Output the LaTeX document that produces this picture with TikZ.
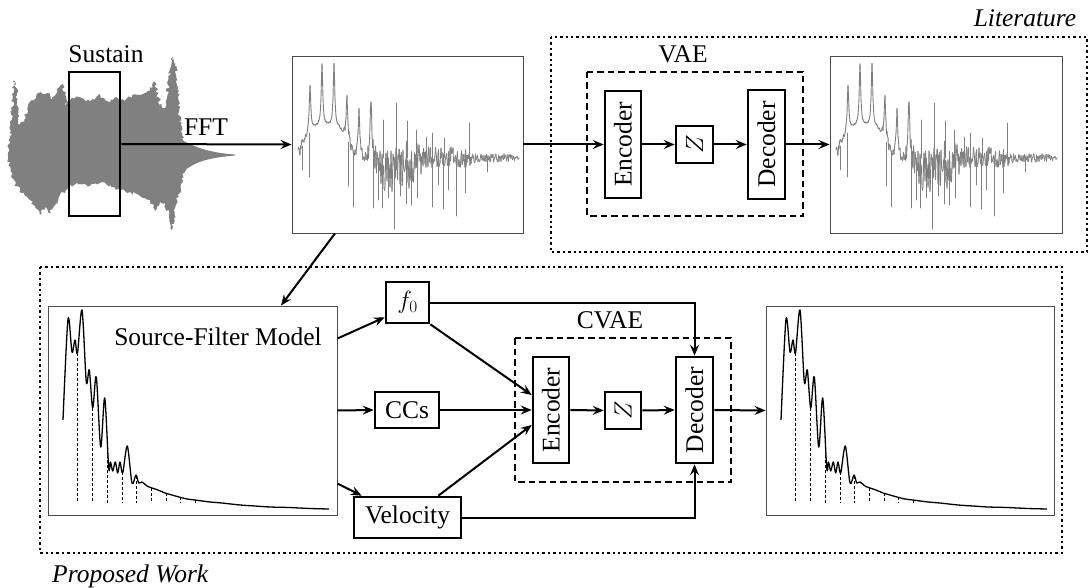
\documentclass[tikz,border=0pt]{standalone}
\usepackage{fontspec}
\usepackage{graphicx}
\setmainfont{Liberation Serif}
\newfontfamily\timesfont{Liberation Serif}
\usetikzlibrary{arrows.meta,decorations.pathmorphing,calc}

\tikzset{
  arr/.style={-{Stealth[length=11pt,width=9pt,inset=4pt]}, line width=2pt},
  blk/.style={draw, line width=2.6pt, inner sep=0pt},
  plotframe/.style={draw=black!70, line width=0.9pt, inner sep=0pt},
  group/.style={draw, line width=2pt, dash pattern=on 6.5pt off 4pt},
  region/.style={draw, line width=2.4pt, dash pattern=on 2.4pt off 3pt},
  fftline/.style={draw=gray, line width=0.9pt, line cap=round},
  envline/.style={draw=black, line width=1.3pt, line join=round},
  harm/.style={draw=black, line width=1pt, dash pattern=on 3pt off 2pt},
  lbl/.style={anchor=base, inner sep=0pt},
}

% magnitude spectrum of the recorded note (grey, noisy)
\newcommand\fftspectrum{%
  \pgfmathsetseed{1234}%
  \xdef\ta{0}\xdef\ya{150}%
  \foreach \i in {1,...,442}{%
    \pgfmathsetmacro\tb{\i*0.5}%
    \pgfmathsetmacro\yb{sbase(\tb)-pk(\tb)+amp(\tb)*(2*rnd-1)+bias(\tb)*rnd}%
    \draw[fftline] (\ta,\ya) -- (\tb,\yb);
    \xdef\ta{\tb}\xdef\ya{\yb}%
  }
  \foreach \t/\y in {4/170, 11/177, 50/186, 55/207, 75/208, 80/200, 84/208,
      90/198, 96/229, 102/196, 108/204, 113/205, 119/198, 134/207, 140/185,
      145/209, 150/190, 158/216, 167/193, 189/172,
      85/120, 98/103, 109/121, 118/130, 128/137, 134/133, 146/138, 171/123}
    \draw[fftline] (\t,{sbase(\t)}) -- (\t,\y);
}

% smooth source-filter envelope with harmonic markers
\newcommand\sfcurve{%
  \draw[envline] plot[smooth, tension=0.5] coordinates {(63,420) (68,319)
    (72,352) (75,340) (77.5,353) (82,310) (86.3,382) (89.3,370) (92.7,408)
    (96.3,377) (100.7,447) (104.7,398) (108.7,468) (110.5,462) (112.7,471)
    (115.3,462) (117.7,473) (120,462) (122.7,473) (127.3,446) (132,483)
    (136,475) (138.7,483) (142,482) (147,486) (152,488) (158,490) (165,493)
    (172,495) (179,497) (187,499) (195,500) (210,502) (222,503) (240,505)
    (255,506) (270,507) (289,507.5) (310,508.5) (329,509)};
  \foreach \x/\y in {77.7/353, 92.5/408, 107.2/445, 122/472, 136.7/476,
      151.4/488, 166/493, 180.7/497, 195.3/500}
    \draw[harm] (\x,\y) -- (\x,503);
}

\begin{document}
\begin{tikzpicture}[x=1pt, y=-1pt, font=\timesfont\fontsize{25.5}{30}\selectfont,
  declare function={
    bump(\t,\c,\w)=exp(0-(min(((\t-\c)/\w)^2,4))^2);
    sbase(\t)=158-32*bump(\t,28,24);
    lz(\t,\c,\h)=\h/(1+(min(abs(\t-\c),40)/0.9)^2);
    pk(\t)=lz(\t,12,46)+lz(\t,24,62)+lz(\t,36,62)+lz(\t,49,44)+lz(\t,61,48)+lz(\t,73,62);
    amp(\t)=0.8+5*bump(\t,0,8)+5*bump(\t,60,14)+20*bump(\t,100,25)+10*bump(\t,150,28)+3.5*bump(\t,200,18);
    bias(\t)=18*bump(\t,98,22);
  }]
\useasboundingbox (0,0) rectangle (1089,588);

% ---------- waveform ----------
\pgfmathsetseed{7}
\fill[gray, decorate, decoration={random steps, segment length=2pt, amplitude=1.8pt}]
  (8,155) -- (11,130) -- (14,80) -- (17,95) -- (20,126) -- (24,120) -- (28,105)
  -- (32,100) -- (36,98) -- (40,92) -- (44,96) -- (48,93) -- (52,99) -- (56,94)
  -- (60,86) -- (63,84) -- (66,105) -- (70,100) -- (80,97) -- (90,101) -- (100,95)
  -- (110,103) -- (116,97) -- (120,101) -- (130,97) -- (140,95) -- (150,90)
  -- (155,82) -- (158,97) -- (162,108) -- (166,106) -- (170,70) -- (172,57)
  -- (175,66) -- (177,80) -- (179,110) -- (182,135) -- (186,142)
  -- (186,168) -- (183,175) -- (180,190) -- (176,205) -- (172,230) -- (169,215)
  -- (165,205) -- (160,202) -- (155,211) -- (150,200) -- (140,196) -- (130,192)
  -- (120,190) -- (110,185) -- (100,183) -- (90,186) -- (80,184) -- (70,185)
  -- (66,190) -- (60,195) -- (55,205) -- (50,213) -- (45,207) -- (40,215)
  -- (35,206) -- (30,200) -- (25,196) -- (20,190) -- (15,185) -- (11,172)
  -- (8,157) -- cycle;
\fill[gray] (183,141) .. controls (190,143) and (200,152) .. (235,154.6)
  -- (235,155.6) .. controls (200,158) and (190,166) .. (183,172) -- cycle;

% ---------- regions ----------
\draw[region] (551,37) rectangle (1087,252);
\draw[region] (40,267) rectangle (1062,553);
\node[lbl, font=\timesfont\fontsize{25.5}{30}\selectfont\itshape] at (1025,27) {Literature};
\node[lbl, anchor=base west, font=\timesfont\fontsize{25.5}{30}\selectfont\itshape] at (52,582) {Proposed Work};

% ---------- top row ----------
\node[blk, minimum width=51pt, minimum height=144pt] (sus) at (94.5,144) {};
\node[lbl] at (106,63) {Sustain};

\node[plotframe, minimum width=231pt, minimum height=177pt] (spec1) at (407.5,144.5) {};
\begin{scope}[shift={(298,0)}] \fftspectrum \end{scope}

\draw[group] (587,72) rectangle (803,216);
\node[lbl] at (683,63) {VAE};
\node[blk, minimum width=36pt, minimum height=107pt] (enc1) at (623,144.5) {\rotatebox{90}{Encoder}};
\node[blk, minimum width=37pt, minimum height=37pt] (z1) at (694.5,144.5) {\rotatebox{90}{$Z$}};
\node[blk, minimum width=37pt, minimum height=109pt] (dec1) at (766.5,144.5) {\rotatebox{90}{Decoder}};

\node[plotframe, minimum width=232pt, minimum height=177pt] (spec2) at (946,144.5) {};
\begin{scope}[shift={(836,0)}] \fftspectrum \end{scope}

\draw[arr] (sus.east) -- (spec1.west);
\node[lbl] at (206,136) {FFT};
\draw[arr] (spec1.east) -- (enc1.west);
\draw[arr] (enc1.east) -- (z1.west);
\draw[arr] (z1.east) -- (dec1.west);
\draw[arr] (dec1.east) -- (spec2.west);

% ---------- bottom row ----------
\node[plotframe, minimum width=289pt, minimum height=209pt] (sf) at (192.5,410.5) {};
\sfcurve
\node[lbl] at (218,345) {Source-Filter Model};

\node[plotframe, minimum width=288pt, minimum height=209pt] (out) at (910,410.5) {};
\begin{scope}[shift={(718,0)}] \sfcurve \end{scope}

\node[blk, minimum width=43pt, minimum height=41pt] (f0) at (407.5,302.5) {$f_0$};
\node[blk, minimum width=64pt, minimum height=36pt] (ccs) at (407,410) {CCs};
\node[blk, minimum width=107pt, minimum height=41pt] (vel) at (407.5,517.5) {Velocity};

\draw[group] (515,338) rectangle (731,482);
\node[lbl] at (610,328) {CVAE};
\node[blk, minimum width=36pt, minimum height=106pt] (enc2) at (551,410) {\rotatebox{90}{Encoder}};
\node[blk, minimum width=36pt, minimum height=37pt] (z2) at (623,410.5) {\rotatebox{90}{$Z$}};
\node[blk, minimum width=37pt, minimum height=106pt] (dec2) at (694.5,410) {\rotatebox{90}{Decoder}};

\draw[arr] ([xshift=-72.5pt]spec1.south) -- ([xshift=88.5pt]sf.north);
\draw[arr] ([yshift=72pt]sf.east) -- ([yshift=7pt]f0.south west);
\draw[arr] (sf.east) -- (ccs.west);
\draw[arr] ([yshift=-73pt]sf.east) -- ([xshift=9pt]vel.north west);
\draw[arr] (f0.south east) -- ([yshift=15pt]enc2.west);
\draw[arr] (ccs.east) -- (enc2.west);
\draw[arr] ([xshift=-24pt]vel.north east) -- ([yshift=-15pt]enc2.west);
\draw[arr] (f0.east) -| (dec2.north);
\draw[arr] (vel.east) -| (dec2.south);
\draw[arr] (enc2.east) -- (z2.west);
\draw[arr] (z2.east) -- (dec2.west);
\draw[arr] (dec2.east) -- (out.west);
\end{tikzpicture}
\end{document}
